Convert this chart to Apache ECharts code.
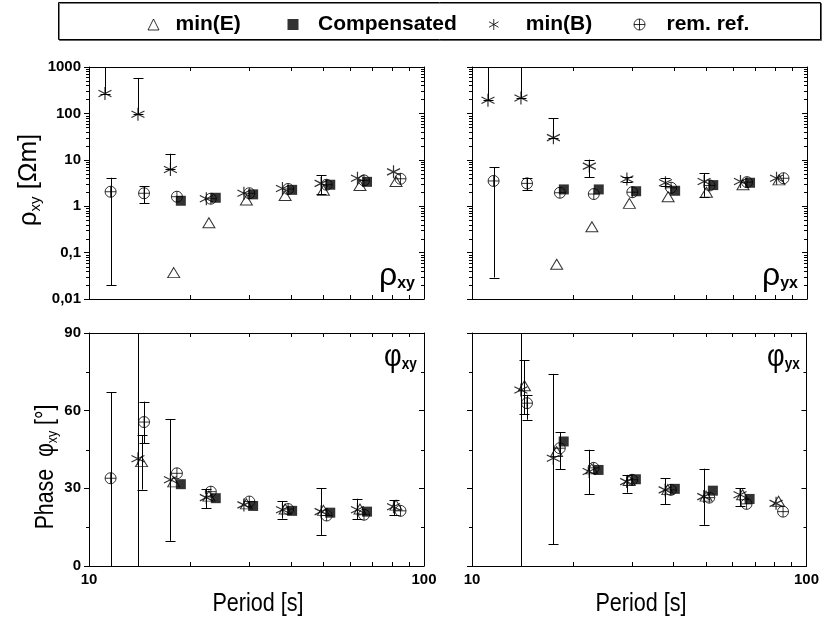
<!DOCTYPE html>
<html>
<head>
<meta charset="utf-8">
<script src="https://cdn.jsdelivr.net/npm/echarts@6/dist/echarts.min.js"></script>
<style>
html,body{margin:0;padding:0;background:#fff}
#chart{width:822px;height:625px}
</style>
</head>
<body>
<div id="chart"></div>
<script>
// periods [s] of each method (plotted slightly shifted like in the original)
var periodB = [11.16, 14.0, 17.5, 22.4, 29.0, 37.8, 49.3, 63.3, 81.1];
var periodE = [11.4, 14.35, 17.9, 22.8, 29.5, 38.5, 50.1, 64.4, 82.5];
var periodR = [11.6, 14.6, 18.3, 23.1, 30.1, 39.3, 51.2, 66.2, 85.1];
var periodC = [11.9, 15.0, 18.8, 23.9, 30.9, 40.4, 52.5, 67.6, 86.5];

// apparent resistivity rho_xy [Ohm m]
var rhoXyE = [null, null, 0.037, 0.44, 1.36, 1.7, 2.2, 2.8, 3.4];
var rhoXyC = [null, null, 1.31, 1.52, 1.8, 2.25, 2.9, 3.35, null];
var rhoXyB = [268, 96, 6.2, 1.45, 1.9, 2.4, 3.1, 4.0, 5.5];
var rhoXyR = [2.05, 1.9, 1.6, 1.45, 1.9, 2.35, 2.9, 3.6, 3.9];
var errRhoXyB = [[268, 5000], [96, 580], [6.2, 13.5], null, null, null, [1.8, 4.6], null, null];
var errRhoXyR = [[0.02, 4.1], [1.15, 2.7], null, null, null, null, null, null, null];

// rho_yx
var rhoYxE = [null, null, 0.056, 0.36, 1.15, 1.6, 2.0, 2.9, 3.7];
var rhoYxC = [null, null, 2.3, 2.3, 2.1, 2.15, 2.85, 3.2, null];
var rhoYxB = [192, 215, 30, 7.3, 3.85, 3.2, 3.4, 3.4, 4.0];
var rhoYxR = [3.5, 3.1, 1.95, 1.83, 2.0, 2.5, 2.8, 3.3, 4.0];
var errRhoYxB = [[192, 5000], [215, 5000], [30, 78], [4.2, 10], [3.3, 4.3], [2.7, 4.0], [1.6, 5.2], null, null];
var errRhoYxR = [[0.029, 6.9], [2.2, 4.1], null, null, null, null, null, null, null];

// phase phi_xy [deg]
var phiXyE = [null, 40.3, 32.5, 27, 24, 22, 21.5, 22, 23.5];
var phiXyC = [null, null, 31.6, 26.2, 23.2, 21.3, 20.6, 21, null];
var phiXyB = [null, 41.4, 33.3, 26.4, 23.6, 21.7, 21, 21.7, 22.9];
var phiXyR = [33.9, 55.6, 35.8, 28.7, 24.9, 22, 19.5, 19.8, 21.3];
var errPhiXyB = [null, [-10, 100], [9.7, 56.8], [22.3, 29.8], null, [18.3, 25], [12, 30], [18, 26], [19.7, 25.5]];
var errPhiXyE = [null, [29.5, 50.5], null, null, null, null, null, null, null];
var errPhiXyR = [[0, 67.2], [47.4, 63.5], null, null, null, null, null, null, null];

// phase phi_yx
var phiYxE = [null, 69.6, 44.2, 37.5, 33, 29.5, 27, 27.5, 25];
var phiYxC = [null, null, 48.1, 37.1, 33.5, 29.8, 29.1, 25.9, null];
var phiYxB = [null, 68, 41.6, 36.5, 32.6, 29.4, 26.8, 27.5, 24.2];
var phiYxR = [null, 62.9, 45.5, 37.9, 33.3, 29.4, 26.4, 24, 21];
var errPhiYxB = [null, [-10, 100], [8.4, 74.2], [27.7, 44.9], [28.3, 35.2], [23.9, 33.8], [15.9, 37.6], [23.2, 30], null];
var errPhiYxE = [null, [58.7, 79.4], null, null, null, null, null, null, null];
var errPhiYxR = [null, [56.5, 66.1], [37.4, 51.6], null, null, null, null, null, null];

// axis ticks
var periodMinor = [20, 30, 40, 50, 60, 70, 80, 90];
var rhoDecades = [0.01, 0.1, 1, 10, 100];
var rhoSteps = [2, 3, 4, 5, 6, 7, 8, 9];
var phaseMinor = [15, 45, 75];

var SANS = "'Liberation Sans', Arial, sans-serif";

var SYM_STAR = 'path://M5,0 L5,10 M0.67,2.5 L9.33,7.5 M0.67,7.5 L9.33,2.5';
var SYM_CROSSCIRCLE = 'path://M0,5 A5,5 0 1 1 10,5 A5,5 0 1 1 0,5 Z M0,5 L10,5 M5,0 L5,10';

function pairs(px, vals) {
  var out = [];
  for (var i = 0; i < vals.length; i++) {
    if (vals[i] != null) out.push([px[i], vals[i]]);
  }
  return out;
}
function errs(list) {
  var out = [];
  list.forEach(function (l) {
    var px = l[0], e = l[1];
    for (var i = 0; i < e.length; i++) {
      if (e[i]) out.push([px[i], e[i][0], e[i][1]]);
    }
  });
  return out;
}

var panels = [
  {rho: true, E: rhoXyE, C: rhoXyC, B: rhoXyB, R: rhoXyR, err: [[periodB, errRhoXyB], [periodR, errRhoXyR]]},
  {rho: true, E: rhoYxE, C: rhoYxC, B: rhoYxB, R: rhoYxR, err: [[periodB, errRhoYxB], [periodR, errRhoYxR]]},
  {rho: false, E: phiXyE, C: phiXyC, B: phiXyB, R: phiXyR, err: [[periodB, errPhiXyB], [periodE, errPhiXyE], [periodR, errPhiXyR]]},
  {rho: false, E: phiYxE, C: phiYxC, B: phiYxB, R: phiYxR, err: [[periodB, errPhiYxB], [periodE, errPhiYxE], [periodR, errPhiYxR]]}
];

var LINE = {stroke: '#000', lineWidth: 1};

// error bars, clipped to the plot frame
function renderErr(params, api) {
  var cs = params.coordSys;
  var pLo = api.coord([api.value(0), api.value(1)]);
  var pHi = api.coord([api.value(0), api.value(2)]);
  var x = Math.round(pLo[0]) + 0.5;
  var top = cs.y, bot = cs.y + cs.height;
  var a = Math.max(Math.min(pLo[1], pHi[1]), top);
  var b = Math.min(Math.max(pLo[1], pHi[1]), bot);
  var ch = [{type: 'line', shape: {x1: x, y1: a, x2: x, y2: b}, style: LINE}];
  [pLo[1], pHi[1]].forEach(function (y) {
    if (y >= top - 0.5 && y <= bot + 0.5) {
      var yy = Math.round(y) + 0.5;
      ch.push({type: 'line', shape: {x1: x - 5, y1: yy, x2: x + 5, y2: yy}, style: LINE});
    }
  });
  return {type: 'group', children: ch};
}

// minor ticks: x ones inside at bottom/top, y ones outside left, inside right
function renderTick(params, api) {
  var cs = params.coordSys;
  var p = api.coord([api.value(0), api.value(1)]);
  if (api.value(2) === 0) {
    var x = Math.round(p[0]) + 0.5;
    return {type: 'group', children: [
      {type: 'line', shape: {x1: x, y1: cs.y + cs.height, x2: x, y2: cs.y + cs.height - 4}, style: LINE},
      {type: 'line', shape: {x1: x, y1: cs.y, x2: x, y2: cs.y + 4}, style: LINE}
    ]};
  }
  var y = Math.round(p[1]) + 0.5;
  return {type: 'group', children: [
    {type: 'line', shape: {x1: cs.x, y1: y, x2: cs.x - 3, y2: y}, style: LINE},
    {type: 'line', shape: {x1: cs.x + cs.width, y1: y, x2: cs.x + cs.width - 3, y2: y}, style: LINE}
  ]};
}

var grids = [
  {left: 89, top: 67, width: 335, height: 232},
  {left: 472, top: 67, width: 335, height: 232},
  {left: 89, top: 333, width: 335, height: 233},
  {left: 472, top: 333, width: 335, height: 233}
];

var xAxes = [], yAxes = [], series = [];
var axisLine = {show: true, onZero: false, lineStyle: {color: '#000', width: 1}};
var tickLabel = {color: '#000', fontFamily: SANS, fontWeight: 'bold', fontSize: 15};

panels.forEach(function (pn, i) {
  var bottomRow = i >= 2, leftCol = (i % 2) === 0;
  xAxes.push({
    type: 'log', logBase: 10, min: 10, max: 100, gridIndex: i, position: 'bottom',
    axisLine: axisLine,
    axisTick: {show: true, inside: true, length: 5, lineStyle: {color: '#000'}},
    axisLabel: Object.assign({show: bottomRow, margin: 6}, tickLabel),
    splitLine: {show: false}
  });
  var yBase = pn.rho
    ? {type: 'log', logBase: 10, min: 0.01, max: 1000}
    : {type: 'value', min: 0, max: 90, interval: 30};
  yAxes.push(Object.assign({
    gridIndex: i, position: 'left',
    axisLine: axisLine,
    axisTick: {show: true, inside: false, length: 5, lineStyle: {color: '#000'}},
    axisLabel: Object.assign({
      show: leftCol, margin: 8,
      formatter: function (v) { return String(+(+v).toPrecision(3)).replace('.', ','); }
    }, tickLabel),
    splitLine: {show: false}
  }, yBase));
});
panels.forEach(function (pn, i) {
  xAxes.push({
    type: 'log', logBase: 10, min: 10, max: 100, gridIndex: i, position: 'top',
    axisLine: axisLine, axisTick: {show: false}, axisLabel: {show: false}, splitLine: {show: false}
  });
  var yBase = pn.rho
    ? {type: 'log', logBase: 10, min: 0.01, max: 1000}
    : {type: 'value', min: 0, max: 90, interval: 30};
  yAxes.push(Object.assign({
    gridIndex: i, position: 'right',
    axisLine: axisLine,
    axisTick: {show: true, inside: true, length: 5, lineStyle: {color: '#000'}},
    axisLabel: {show: false}, splitLine: {show: false}
  }, yBase));
});

panels.forEach(function (pn, i) {
  var tickData = periodMinor.map(function (v) { return [v, pn.rho ? 0.01 : 0, 0]; });
  if (pn.rho) {
    rhoDecades.forEach(function (d) {
      rhoSteps.forEach(function (s) { tickData.push([10, d * s, 1]); });
    });
  } else {
    phaseMinor.forEach(function (v) { tickData.push([10, v, 1]); });
  }
  series.push({
    type: 'custom', xAxisIndex: i, yAxisIndex: i, silent: true,
    renderItem: renderTick, data: tickData, encode: {x: 0, y: 1}
  });
  series.push({
    type: 'custom', xAxisIndex: i, yAxisIndex: i, silent: true,
    renderItem: renderErr, data: errs(pn.err), encode: {x: 0, y: [1, 2]}
  });
  series.push({
    name: 'min(E)', type: 'scatter', xAxisIndex: i, yAxisIndex: i,
    symbol: 'triangle', symbolSize: [12, 10],
    itemStyle: {color: 'transparent', borderColor: '#000', borderWidth: 1},
    data: pairs(periodE, pn.E)
  });
  series.push({
    name: 'rem. ref.', type: 'scatter', xAxisIndex: i, yAxisIndex: i,
    symbol: SYM_CROSSCIRCLE, symbolSize: 11,
    itemStyle: {color: 'transparent', borderColor: '#000', borderWidth: 1},
    data: pairs(periodR, pn.R)
  });
  series.push({
    name: 'min(B)', type: 'scatter', xAxisIndex: i, yAxisIndex: i,
    symbol: SYM_STAR, symbolSize: 13,
    itemStyle: {color: 'transparent', borderColor: '#000', borderWidth: 1.2},
    data: pairs(periodB, pn.B)
  });
  series.push({
    name: 'Compensated', type: 'scatter', xAxisIndex: i, yAxisIndex: i,
    symbol: 'rect', symbolSize: 10,
    itemStyle: {color: '#000'},
    data: pairs(periodC, pn.C)
  });
});

var hollow = {color: 'transparent', borderColor: '#000', borderWidth: 1};
function legendAt(name, icon, style, iconX, textX) {
  return {
    data: [{name: name, icon: icon, itemStyle: style}],
    left: iconX - 5.5, top: 9, itemWidth: 11, itemHeight: 11,
    selectedMode: false,
    textStyle: {fontFamily: SANS, fontWeight: 'bold', fontSize: 21, color: '#000',
      padding: [0, 0, 0, textX - iconX - 15.5]}
  };
}

var labelRich = {
  g: {fontFamily: SANS, fontSize: 32, color: '#000', lineHeight: 32},
  s: {fontFamily: SANS, fontSize: 16, fontWeight: 'bold', color: '#000', lineHeight: 16, verticalAlign: 'bottom'}
};
var nameRich = {
  g: {fontFamily: SANS, fontSize: 26, color: '#000', lineHeight: 28},
  s: {fontFamily: SANS, fontSize: 15, color: '#000', lineHeight: 15, verticalAlign: 'bottom'}
};

var option = {
  animation: false,
  backgroundColor: '#fff',
  grid: grids,
  xAxis: xAxes,
  yAxis: yAxes,
  legend: [
    legendAt('min(E)', 'triangle', hollow, 148, 175),
    legendAt('Compensated', 'rect', {color: '#000'}, 288, 318),
    legendAt('min(B)', SYM_STAR, hollow, 489, 526),
    legendAt('rem. ref.', SYM_CROSSCIRCLE, hollow, 634, 666)
  ],
  graphic: [
    {type: 'rect', z: -1, shape: {x: 58.5, y: 2.5, width: 762, height: 37},
      style: {fill: '#fff', stroke: '#000', lineWidth: 1, shadowColor: 'rgba(0,0,0,0.5)', shadowOffsetX: 1, shadowOffsetY: 1}},
    {type: 'text', x: 379, y: 260, style: {text: '{g|ρ}{s|xy}', rich: labelRich}},
    {type: 'text', x: 762, y: 260, style: {text: '{g|ρ}{s|yx}', rich: labelRich}},
    {type: 'text', x: 384, y: 341, scaleX: 0.85, style: {text: '{g|φ}{s|xy}', rich: labelRich}},
    {type: 'text', x: 767, y: 341, scaleX: 0.85, style: {text: '{g|φ}{s|yx}', rich: labelRich}},
    {type: 'text', x: 29, y: 180, rotation: Math.PI / 2,
      style: {text: '{g|ρ}{s|xy}{g| [Ωm]}', rich: nameRich, align: 'center', verticalAlign: 'middle'}},
    {type: 'text', x: 46, y: 467, rotation: Math.PI / 2, scaleX: 0.82,
      style: {text: '{g|Phase  φ}{s|xy}{g| [°]}', rich: nameRich, align: 'center', verticalAlign: 'middle'}},
    {type: 'text', x: 258, y: 604, scaleX: 0.83,
      style: {text: 'Period [s]', font: '26px ' + SANS, fill: '#000', align: 'center', verticalAlign: 'middle'}},
    {type: 'text', x: 641, y: 604, scaleX: 0.83,
      style: {text: 'Period [s]', font: '26px ' + SANS, fill: '#000', align: 'center', verticalAlign: 'middle'}}
  ],
  series: series
};

var chart = echarts.init(document.getElementById('chart'));
chart.setOption(option);
</script>
</body>
</html>
